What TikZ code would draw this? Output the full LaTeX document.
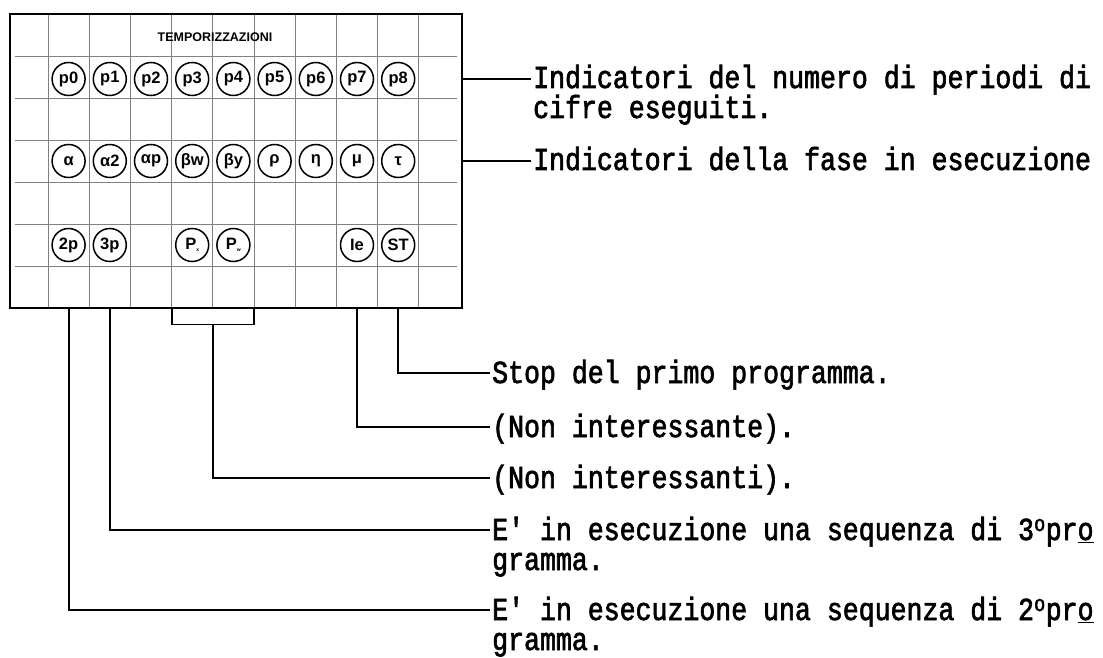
\documentclass[tikz,border=0pt]{standalone}
\usepackage{fontspec}
\usetikzlibrary{calc}
\newfontfamily\legfamily[FakeStretch=0.83, FakeBold=2]{Liberation Mono}
\newfontfamily\lampfamily{Liberation Sans}
\newcommand{\legstyle}{\legfamily\fontsize{32}{30}\selectfont}
\newcommand{\lampstyle}{\lampfamily\bfseries\fontsize{16.5}{16.5}\selectfont}
\newcommand{\titlestyle}{\lampfamily\bfseries\fontsize{12.5}{12.5}\selectfont}
\newcommand{\twolines}[2]{\vtop{\hbox{#1}\hbox{#2}}}

\begin{document}
\begin{tikzpicture}[x=1pt, y=-1pt,
    lamp/.style={draw, circle, line width=1.5pt, minimum size=33pt, inner sep=0pt, font=\lampstyle},
    legend/.style={anchor=base west, inner sep=0pt, font=\legstyle},
    lead/.style={line width=1.8pt},
    grid/.style={line width=0.8pt, black!50}]
  \useasboundingbox (0,0) rectangle (1103,658);

  % pannello
  \foreach \gx in {0,...,9}
    \draw[grid] (48+41.2*\gx,14) -- (48+41.2*\gx,308);
  \foreach \gy in {1,...,6}
    \draw[grid] (15,14+42*\gy) -- (457,14+42*\gy);
  \node[draw, line width=2.8pt, minimum width=452pt, minimum height=294pt, inner sep=0pt] (panel) at (236,161) {};
  \node[font=\titlestyle] (title) at (215,37) {TEMPORIZZAZIONI};

  % lampade
  \foreach \lbl [count=\i] in {p0,p1,p2,p3,p4,p5,p6,p7,p8}
    \node[lamp] (lampP\i) at (48+41.2*\i-20.6,79) {\lbl};
  \foreach \lbl [count=\i] in {α,α2,αp,βw,βy,ρ,η,μ,τ}
    \node[lamp] (lampA\i) at (48+41.2*\i-20.6,161) {\lbl};
  \node[lamp] (lamp2p) at (68.6,245) {2p};
  \node[lamp] (lamp3p) at (109.8,245) {3p};
  \node[lamp] (lampPx) at (192.2,245) {P\raisebox{-2pt}{\tiny x}};
  \node[lamp] (lampPw) at (233.4,245) {P\raisebox{-2pt}{\tiny w}};
  \node[lamp] (lampIe) at (357,245) {Ie};
  \node[lamp] (lampST) at (398.2,245) {ST};

  % didascalie
  \node[legend] (txtP) at (533,88) {\twolines{Indicatori del numero di periodi di}{cifre eseguiti.}};
  \node[legend] (txtA) at (533,170) {Indicatori della fase in esecuzione};
  \node[legend] (txtST) at (492,383) {Stop del primo programma.};
  \node[legend] (txtIe) at (492,437) {(Non interessante).};
  \node[legend] (txtPP) at (492,488) {(Non interessanti).};
  \node[legend] (txt3p) at (492,540) {\twolines{E' in esecuzione una sequenza di 3\textsuperscript{o}pr\underline{o}}{gramma.}};
  \node[legend] (txt2p) at (492,620) {\twolines{E' in esecuzione una sequenza di 2\textsuperscript{o}pr\underline{o}}{gramma.}};

  % collegamenti
  \draw[lead] (panel.east |- lampP1) -- ($(txtP.base west)+(-2,-9)$);
  \draw[lead] (panel.east |- lampA1) -- ($(txtA.base west)+(-2,-9)$);
  \draw[lead] (lampST |- panel.south) |- ($(txtST.base west)+(-2,-10)$);
  \draw[lead] (lampIe |- panel.south) |- ($(txtIe.base west)+(-2,-10)$);
  \draw[lead] ($(lampPx |- panel.south)+(-20.6,0)$) -- ++(0,15) coordinate (brL) -- ($(lampPw |- brL)+(20.6,0)$) -- ($(lampPw |- panel.south)+(20.6,0)$);
  \draw[lead] ($(lampPx |- brL)!0.5!(lampPw |- brL)$) |- ($(txtPP.base west)+(-2,-10)$);
  \draw[lead] (lamp3p |- panel.south) |- ($(txt3p.base west)+(-2,-10)$);
  \draw[lead] (lamp2p |- panel.south) |- ($(txt2p.base west)+(-2,-10)$);
\end{tikzpicture}
\end{document}
